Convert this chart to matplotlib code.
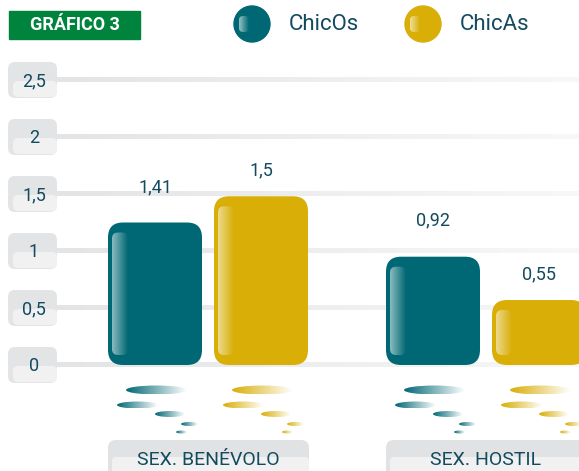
import numpy as np
import matplotlib
matplotlib.use("Agg")
import matplotlib.pyplot as plt
from matplotlib.patches import FancyBboxPatch, Ellipse, Circle, Rectangle
from matplotlib.colors import LinearSegmentedColormap, to_rgb

plt.rcParams['font.family'] = ['Roboto', 'DejaVu Sans']

# data
categories = ['SEX. BENÉVOLO', 'SEX. HOSTIL']
chicos = [1.25, 0.95]          # bar heights as drawn
chicas = [1.48, 0.57]
chicos_labels = ['1,41', '0,92']   # labels as printed
chicas_labels = ['1,5', '0,55']
ticks = [0, 0.5, 1, 1.5, 2, 2.5]
tick_labels = ['0', '0,5', '1', '1,5', '2', '2,5']
series_names = ['ChicOs', 'ChicAs']

TEAL = '#006874'
GOLD = '#d8ae07'
TXT = '#124a5e'
GREEN = '#00843d'

W, H = 579, 471
fig = plt.figure(figsize=(W / 100, H / 100), dpi=100)
fig.patch.set_facecolor('white')

# pixel space background axes for the decorations
bg = fig.add_axes([0, 0, 1, 1], zorder=0)
bg.set_xlim(0, W)
bg.set_ylim(H, 0)
bg.axis('off')

# data axes: 1 x-unit = 278 px, 1 y-unit = 114 px, y=0 at px 365
XU, YU = 278.0, 114.0
ax = fig.add_axes([0, 0, 1, 1], zorder=1)
ax.patch.set_visible(False)
ax.axis('off')
xlim = (-208 / XU, (W - 208) / XU)
ylim = (-(H - 365) / YU, 365 / YU)


def grad_img(axis, extent, c0, c1, clip=None, alpha=None, z=2):
    cmap = LinearSegmentedColormap.from_list('g', [c0, c1])
    g = np.linspace(0, 1, 256).reshape(1, -1)
    im = axis.imshow(g, cmap=cmap, extent=extent, aspect='auto',
                     interpolation='bicubic', zorder=z, alpha=alpha)
    if clip is not None:
        im.set_clip_path(clip)
    return im


# title box
bg.add_patch(Rectangle((9, 11), 131, 28, color=GREEN, zorder=1))
bg.text(74.5, 25.5, 'GRÁFICO 3', color='white', fontsize=13, fontweight='bold',
        ha='center', va='center', zorder=2)

# legend
for (cx, tx), name, col in zip([(252, 289), (423, 460)], series_names, [TEAL, GOLD]):
    c = Circle((cx, 24), 18, color=col, zorder=2)
    bg.add_patch(c)
    hl = FancyBboxPatch((cx - 13, 16), 10, 16, boxstyle='round,pad=0,rounding_size=4',
                        fc='none', ec='none', zorder=3)
    bg.add_patch(hl)
    grad_img(bg, [cx - 13, cx - 3, 32, 16], '#ffffff', col, clip=hl, alpha=0.6, z=3)
    bg.text(tx, 25, name, color=TXT, fontsize=16, ha='left', va='center', zorder=2)

# tick label boxes
for t, lab in zip(ticks, tick_labels):
    yc = 365 - t * YU
    bg.add_patch(FancyBboxPatch((8, yc - 18), 49, 36, boxstyle='round,pad=0,rounding_size=7',
                                fc='#e3e4e6', ec='none', zorder=1))
    bg.add_patch(FancyBboxPatch((13, yc + 1), 44, 16, boxstyle='round,pad=0,rounding_size=5',
                                fc='#f1f1f2', ec='none', zorder=1))
    bg.text(34, yc + 1, lab, color=TXT, fontsize=13, ha='center', va='center', zorder=2)

# category boxes
for cx, cat in zip([208, 486], categories):
    x0 = cx - 100
    bg.add_patch(FancyBboxPatch((x0, 440), 201, 50, boxstyle='round,pad=0,rounding_size=8',
                                fc='#e1e2e4', ec='none', zorder=1))
    bg.add_patch(FancyBboxPatch((x0 + 4, 457), 197, 30, boxstyle='round,pad=0,rounding_size=4',
                                fc='#f1f1f2', ec='none', zorder=1))
    bg.text(cx, 460, cat, color=TXT, fontsize=14, ha='center', va='center', zorder=2)

# gridlines fading to the right
for t in ticks:
    grad_img(ax, [(57 - 208) / XU, xlim[1], t - 2.5 / YU, t + 2.5 / YU],
             '#e3e4e6', '#f8f8f8', z=1)

# bars
x = np.arange(len(categories))
bw = 94 / XU
off = 53 / XU
rs = 15 / XU
asp = XU / YU
streaks = [(18, 79, 25, 9), (9, 50, 40, 7), (47, 77, 49, 6), (73, 90, 59, 4), (68, 79, 67, 3)]

for vals, labs, col, sgn, dy in [(chicos, chicos_labels, TEAL, -1, [35, 36]),
                                 (chicas, chicas_labels, GOLD, 1, [26, 25.5])]:
    rects = ax.bar(x + sgn * off, vals, bw, color=col, zorder=3)
    for r, lab, d in zip(rects, labs, dy):
        r.set_visible(False)
        bx, by, w, h = r.get_x(), r.get_y(), r.get_width(), r.get_height()
        ax.add_patch(FancyBboxPatch((bx, by), w, h,
                                    boxstyle=f'round,pad=0,rounding_size={rs}',
                                    mutation_aspect=asp, fc=col, ec='none', zorder=3))
        # glossy highlight strip
        hx0, hx1 = bx + 4 / XU, bx + 20 / XU
        hy0, hy1 = by + 10 / YU, by + h - 10 / YU
        hp = FancyBboxPatch((hx0, hy0), hx1 - hx0, hy1 - hy0,
                            boxstyle=f'round,pad=0,rounding_size={6 / XU}',
                            mutation_aspect=asp, fc='none', ec='none', zorder=4)
        ax.add_patch(hp)
        grad_img(ax, [hx0, hx1, hy0, hy1], '#ffffff', col, clip=hp, alpha=0.55, z=4)
        ax.annotate(lab, (bx + w / 2, by + h), xytext=(0, d), textcoords='offset pixels',
                    ha='center', va='center', fontsize=13, color=TXT, zorder=5)
        # streaks under the bar
        for s0, s1, sy, sh in streaks:
            ex0, ex1 = bx + s0 / XU, bx + s1 / XU
            ey = -sy / YU
            e = Ellipse(((ex0 + ex1) / 2, ey), ex1 - ex0, sh / YU, fc='none', ec='none', zorder=3)
            ax.add_patch(e)
            grad_img(ax, [ex0, ex1, ey - sh / 2 / YU, ey + sh / 2 / YU], col, '#ffffff', clip=e, z=3)

ax.set_xlim(*xlim)
ax.set_ylim(*ylim)

fig.savefig('out.png', dpi=100, facecolor='white')
